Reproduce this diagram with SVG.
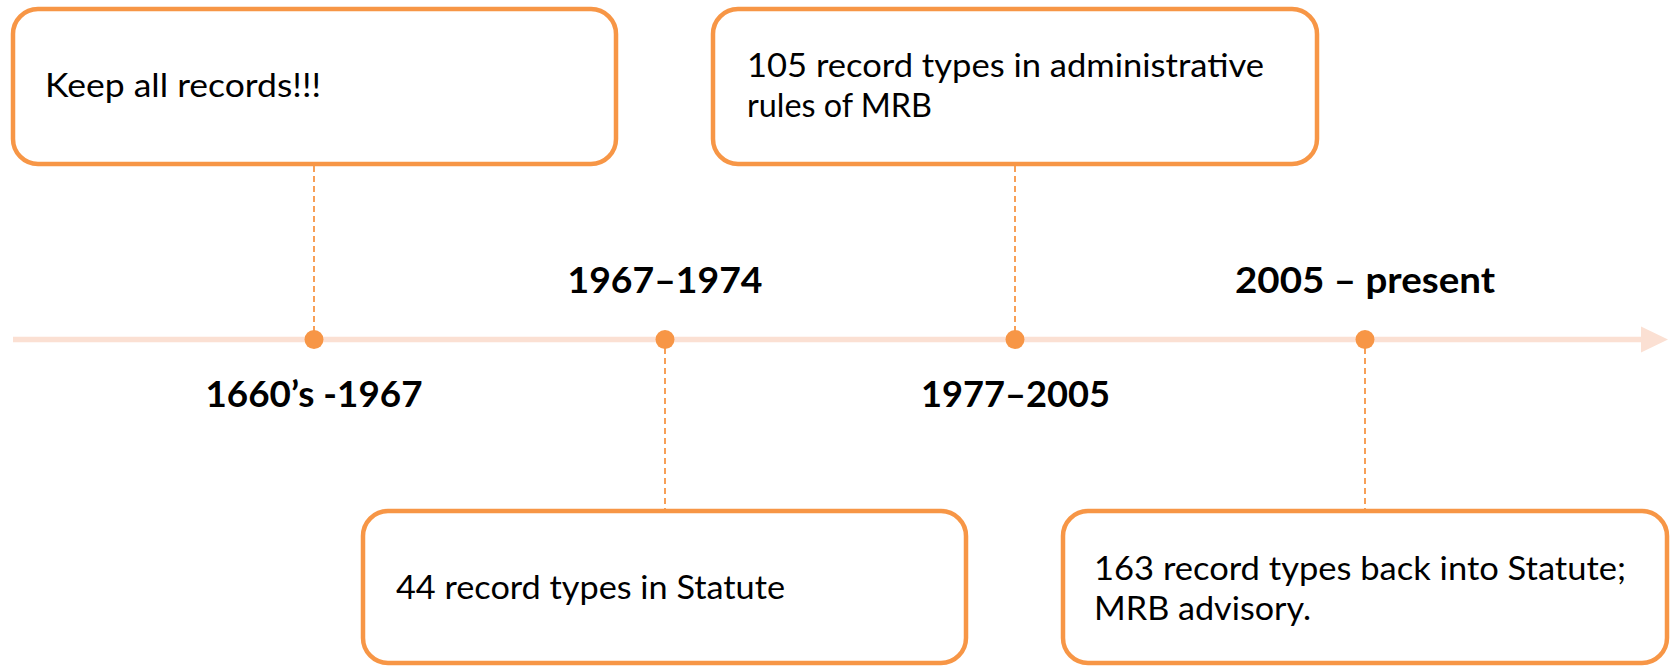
<svg xmlns="http://www.w3.org/2000/svg" width="1679" height="666" viewBox="0 0 1679 666">
<style>
.box{fill:#FFFFFF;stroke:#F79646;stroke-width:4.5}
.conn{stroke:#F79646;stroke-width:1.8;stroke-dasharray:6 4;fill:none}
.dot{fill:#F79646}
.body{font-family:Lato,"Liberation Sans",sans-serif;font-size:33px;fill:#000000}
.year{font-family:Lato,"Liberation Sans",sans-serif;font-size:37px;font-weight:bold;fill:#000000;text-anchor:middle}
</style>
<rect width="1679" height="666" fill="#FFFFFF"/>
<g id="timeline">
<line x1="13" y1="339.5" x2="1645" y2="339.5" stroke="#FBE0D3" stroke-width="5.5"/>
<polygon points="1641,326.5 1668,339.5 1641,352.5" fill="#FBE0D3"/>
</g>
<g id="connectors">
<line class="conn" x1="314" y1="166" x2="314" y2="332"/>
<line class="conn" x1="665" y1="348" x2="665" y2="511"/>
<line class="conn" x1="1015" y1="166" x2="1015" y2="332"/>
<line class="conn" x1="1365" y1="348" x2="1365" y2="511"/>
</g>
<g id="dots">
<circle class="dot" cx="314" cy="339.5" r="9.5"/>
<circle class="dot" cx="665" cy="339.5" r="9.5"/>
<circle class="dot" cx="1015" cy="339.5" r="9.5"/>
<circle class="dot" cx="1365" cy="339.5" r="9.5"/>
</g>
<g id="label-1660">
<text class="year" x="314" y="407" textLength="217" lengthAdjust="spacingAndGlyphs">1660’s -1967</text>
</g>
<g id="label-1967">
<text class="year" x="665" y="293" textLength="195" lengthAdjust="spacingAndGlyphs">1967–1974</text>
</g>
<g id="label-1977">
<text class="year" x="1015.5" y="407" textLength="189" lengthAdjust="spacingAndGlyphs">1977–2005</text>
</g>
<g id="label-2005">
<text class="year" x="1365" y="293" textLength="260" lengthAdjust="spacingAndGlyphs">2005 – present</text>
</g>
<g id="node-keep">
<rect class="box" x="13" y="9" width="603" height="155" rx="25" ry="25"/>
<text class="body" x="45" y="97" textLength="276" lengthAdjust="spacingAndGlyphs">Keep all records!!!</text>
</g>
<g id="node-105">
<rect class="box" x="713" y="9" width="604" height="155" rx="25" ry="25"/>
<text class="body" x="747" y="77" textLength="517" lengthAdjust="spacingAndGlyphs">105 record types in administrative</text>
<text class="body" x="747" y="117" textLength="185" lengthAdjust="spacingAndGlyphs">rules of MRB</text>
</g>
<g id="node-44">
<rect class="box" x="363" y="511" width="603" height="152" rx="25" ry="25"/>
<text class="body" x="396" y="599" textLength="389" lengthAdjust="spacingAndGlyphs">44 record types in Statute</text>
</g>
<g id="node-163">
<rect class="box" x="1063" y="511" width="604" height="152" rx="25" ry="25"/>
<text class="body" x="1094" y="580" textLength="532" lengthAdjust="spacingAndGlyphs">163 record types back into Statute;</text>
<text class="body" x="1094" y="620" textLength="217" lengthAdjust="spacingAndGlyphs">MRB advisory.</text>
</g>
</svg>
